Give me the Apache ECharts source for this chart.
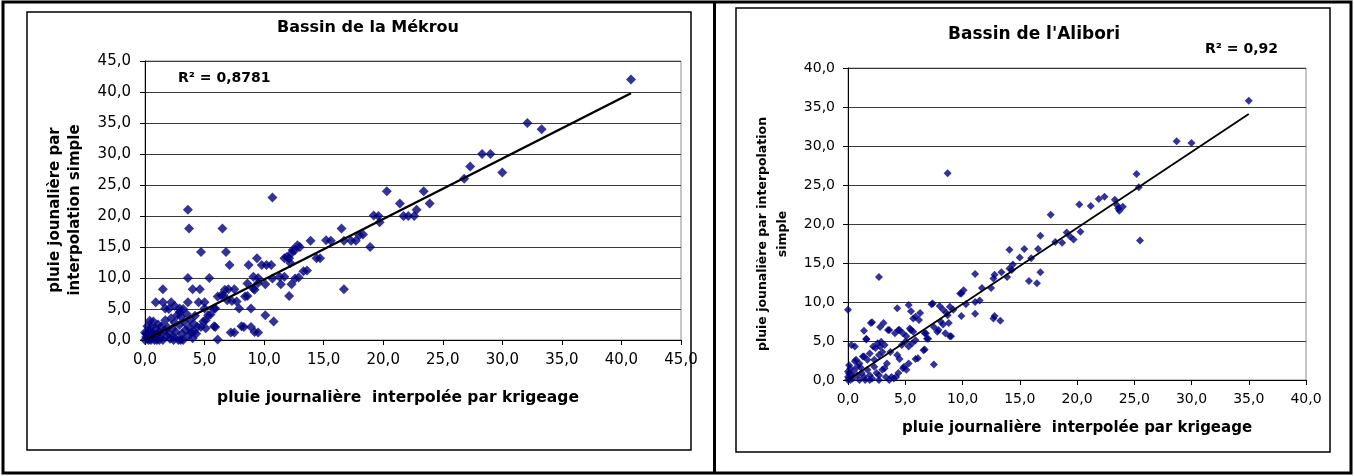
<!DOCTYPE html>
<html>
<head>
<meta charset="utf-8">
<script src="https://cdn.jsdelivr.net/npm/echarts@6/dist/echarts.min.js"></script>
<style>
html,body{margin:0;padding:0;background:#fff;}
#chart{width:1354px;height:476px;}
</style>
</head>
<body>
<div id="chart"></div>
<script>
// ---------- DATA ----------
const mekrouTitle = "Bassin de la Mékrou";
const aliboriTitle = "Bassin de l'Alibori";
const mekrouR2 = "R² = 0,8781";
const aliboriR2 = "R² = 0,92";
const xAxisTitle = "pluie journalière  interpolée par krigeage";
const mekrouYTitle = "pluie jounalière par\ninterpolation simple";
const aliboriYTitle = "pluie jounalière par interpolation\nsimple";

const mekrouTickLabels = ['0,0','5,0','10,0','15,0','20,0','25,0','30,0','35,0','40,0','45,0'];
const aliboriTickLabels = ['0,0','5,0','10,0','15,0','20,0','25,0','30,0','35,0','40,0'];

// [krigeage, interpolation simple]
const mekrouPoints = [
[40.8,42.0],[32.1,35.0],[33.3,34.0],[28.3,30.0],[29.0,30.0],[30.0,27.0],[27.3,28.0],[26.8,26.0],
[20.3,24.0],[23.4,24.0],[21.4,22.0],[23.9,22.0],[22.8,21.0],[21.7,20.0],[22.1,20.0],[22.6,20.0],
[19.6,20.0],[19.7,19.0],[10.7,23.0],[3.6,21.0],[3.7,18.0],[6.5,18.0],[16.5,18.0],[18.3,17.0],
[17.7,16.0],[16.7,16.0],[15.6,16.0],[13.9,16.0],[18.9,15.0],[13.0,15.0],[12.6,14.5],[12.3,14.0],
[12.1,13.2],[14.7,13.2],[13.6,11.2],[12.9,10.1],[12.3,9.0],[12.1,7.1],[11.4,9.0],[11.7,10.2],
[16.7,8.2],[4.7,14.2],[6.8,14.2],[7.1,12.1],[8.7,12.1],[9.4,13.2],[9.8,12.1],[10.6,12.1],
[9.1,10.2],[9.5,10.0],[10.1,9.0],[10.7,9.9],[8.6,9.1],[9.1,8.3],[8.6,7.1],[8.9,5.1],
[10.1,4.0],[10.8,3.0],[8.3,2.1],[8.9,2.1],[9.5,1.2],[7.2,1.2],[7.5,1.2],[6.1,0.1],
[5.9,2.1],[3.6,10.0],[5.4,10.0],[4.0,8.2],[4.6,8.2],[3.6,6.1],[1.5,8.2],[0.9,6.1],
[1.5,6.1],[2.2,6.1],[1.7,5.1],[2.9,5.1],[4.5,6.1],[5.0,6.1],[5.0,5.1],[5.9,5.1],
[6.4,7.2],[7.0,8.2],[7.5,8.2],[6.9,6.4],[7.7,6.2],[7.9,5.1],[6.6,7.2],[5.5,4.1],
[5.1,3.2],[4.7,2.1],[4.1,1.3],[6.7,8.1],[8.4,7.0],[9.2,8.1],[9.5,9.2],[6.1,7.0],
[7.3,6.3],[5.8,5.1],[5.3,4.0],[4.9,3.0],[5.8,2.2],[8.1,2.2],[5.1,1.9],[9.2,1.3],
[12.4,14.5],[11.9,13.4],[12.2,12.4],[11.3,10.2],[12.6,9.9],[10.2,12.1],[17.3,16.0],[18.0,16.9],
[19.2,20.1],[13.3,11.1],[14.4,13.2],[15.2,16.1],[12.8,15.3],[11.7,13.2],
[0.0,0.0],[0.1,0.5],[0.2,1.0],[0.3,0.0],[0.4,1.5],[0.5,2.0],[0.6,0.3],[0.7,3.0],
[0.8,0.8],[0.9,1.8],[1.0,0.0],[1.1,2.5],[1.2,1.2],[1.3,0.4],[1.4,2.2],[1.5,0.0],
[1.6,1.5],[1.7,3.2],[1.8,0.7],[1.9,2.0],[2.0,1.0],[2.1,0.2],[2.2,3.5],[2.3,1.8],
[2.4,0.5],[2.5,2.8],[2.6,1.3],[2.7,4.0],[2.8,0.0],[2.9,2.4],[3.0,3.8],[3.1,1.0],
[3.2,0.0],[3.3,2.9],[3.4,1.6],[3.5,4.2],[3.6,0.6],[3.7,2.0],[3.8,3.3],[3.9,1.2],
[4.0,0.3],[4.1,2.6],[4.2,3.9],[4.3,1.0],[4.4,2.1],[0.2,0.2],[0.5,0.0],[0.8,0.0],
[0.3,0.8],[0.6,1.2],[1.2,0.0],[0.1,1.0],[0.0,1.2],[2.0,5.0],[2.5,5.5],[2.9,4.5],
[3.2,5.0],[0.2,2.2],[0.4,3.1],[1.0,1.0],[2.4,0.0],[3.0,0.0]
];
const mekrouTrend = [[0.0,0.0],[40.8,39.8]];

const aliboriPoints = [
[35.0,35.8],[28.7,30.6],[30.0,30.4],[25.2,26.4],[25.4,24.7],[25.5,17.9],[8.7,26.5],
[23.3,23.1],[23.5,22.4],[23.7,21.7],[24.0,22.2],[23.6,22.0],[22.4,23.5],[21.9,23.2],[21.2,22.3],
[20.2,22.5],[17.7,21.2],[20.3,19.0],[19.7,18.0],[19.4,18.4],[19.1,18.9],[18.7,17.6],[18.1,17.7],
[16.8,18.5],[16.6,16.8],[15.4,16.8],[14.1,16.7],[16.0,15.6],[15.0,15.7],[14.4,14.8],[14.1,14.3],
[14.3,14.1],[13.9,13.2],[13.4,13.8],[12.8,13.5],[12.7,13.0],[11.1,13.6],[16.8,13.8],[15.8,12.7],
[16.5,12.4],[12.5,11.8],[11.7,11.8],[10.1,11.5],[9.9,11.1],[10.3,9.7],[11.1,10.0],[11.5,10.2],
[9.9,8.2],[11.1,8.5],[12.8,8.2],[12.7,7.9],[13.3,7.6],[2.7,13.2],
[0.0,9.0],[9.8,11.1],[4.3,9.2],[5.3,9.6],[5.5,8.8],[5.9,8.1],[6.3,8.6],[7.3,9.7],
[8.0,9.5],[8.3,9.0],[8.6,8.6],[8.9,9.4],[9.2,9.0],[2.0,7.3],[3.1,7.3],[2.8,6.8],
[1.4,6.3],[3.5,6.4],[4.1,6.0],[4.5,6.4],[4.8,6.0],[5.1,5.6],[5.4,6.6],[5.7,6.2],
[6.7,6.0],[7.0,5.3],[7.5,6.8],[7.9,6.4],[8.5,6.0],[8.8,7.3],[8.9,5.6],[1.6,5.2],
[0.3,4.5],[0.6,4.3],[6.6,3.8],[7.5,2.0],[5.9,2.7],[5.3,2.1],[4.8,1.5],[4.5,2.7],
[3.8,0.4],[4.0,0.2],[0.7,2.6],[1.3,3.0],[1.9,3.4],[2.4,4.1],[2.8,4.3],[3.2,4.5],
[3.7,3.6],[4.3,3.2],[4.7,4.5],[5.0,4.9],[5.3,4.3],[5.6,4.7],[6.2,7.7],[5.7,7.9],
[2.1,7.4],[4.4,0.9],[3.4,2.1],[3.0,1.3],[3.3,0.4],[2.7,0.0],[2.3,1.7],[1.7,2.6],
[1.4,3.0],[0.8,1.7],[1.2,0.9],[1.9,0.6],[0.6,2.4],[0.2,1.5],[0.0,0.4],[0.4,0.2],
[1.0,0.0],[1.5,0.0],[2.1,0.2],[2.5,0.9],[0.2,0.0],[0.0,1.1],[0.3,0.6],[0.8,0.6],
[1.4,0.4],[1.7,1.3],[2.3,2.6],[2.7,3.2],[3.0,3.6],[1.9,0.0],[2.7,0.6],[3.6,0.0],
[4.2,0.4],[3.2,1.5],[2.9,4.9],[2.6,4.7],[2.2,4.3],[0.1,0.8],[0.5,1.2],[1.1,1.6],
[0.0,0.0],[0.1,1.9],[1.0,2.1],[6.1,2.8],[6.7,3.9],[6.9,5.3],[6.8,6.0],[9.0,5.6],
[7.8,6.2],[5.5,6.4],[4.4,6.4],[3.6,6.4],[5.9,5.1],[7.4,9.8],[8.7,8.3],[8.1,7.5],
[8.3,7.1],[4.9,1.7],[5.1,1.3],[1.6,5.3]
];
const aliboriTrend = [[0.1,0.1],[35.0,34.1]];

// ---------- CHART ----------
const FONT = '"DejaVu Sans", "Liberation Sans", Arial, sans-serif';
const chart = echarts.init(document.getElementById('chart'), null, {renderer: 'canvas'});

function xAxisCfg(gi, max, labels, fs, margin) {
  return {
    gridIndex: gi, type: 'value', min: 0, max: max, interval: 5,
    axisLine: {show: true, onZero: false, lineStyle: {color: '#000', width: 1}},
    axisTick: {show: true, length: 5, lineStyle: {color: '#000'}},
    axisLabel: {color: '#000', fontSize: fs, fontFamily: FONT, margin: margin,
      formatter: v => labels[Math.round(v / 5)]},
    splitLine: {show: false}
  };
}
function yAxisCfg(gi, max, labels, fs, margin) {
  return {
    gridIndex: gi, type: 'value', min: 0, max: max, interval: 5,
    axisLine: {show: true, onZero: false, lineStyle: {color: '#000', width: 1}},
    axisTick: {show: true, length: 5, lineStyle: {color: '#000'}},
    axisLabel: {color: '#000', fontSize: fs, fontFamily: FONT, margin: margin,
      formatter: v => labels[Math.round(v / 5)]},
    splitLine: {show: true, lineStyle: {color: '#3a3a3a', width: 1}}
  };
}

const option = {
  backgroundColor: '#fff',
  animation: false,
  grid: [
    {left: 145, top: 61, right: 1354 - 681, bottom: 476 - 340, show: true, borderColor: '#8c8c8c', borderWidth: 1},
    {left: 848, top: 68, right: 1354 - 1306, bottom: 476 - 380, show: true, borderColor: '#8c8c8c', borderWidth: 1}
  ],
  xAxis: [
    xAxisCfg(0, 45, mekrouTickLabels, 15, 13),
    xAxisCfg(1, 40, aliboriTickLabels, 14, 12)
  ],
  yAxis: [
    yAxisCfg(0, 45, mekrouTickLabels, 15, 14),
    yAxisCfg(1, 40, aliboriTickLabels, 14, 13)
  ],
  series: [
    {type: 'scatter', xAxisIndex: 0, yAxisIndex: 0, data: mekrouPoints, symbol: 'diamond', symbolSize: 10,
      itemStyle: {color: '#000080'}, z: 2},
    {type: 'line', xAxisIndex: 0, yAxisIndex: 0, data: mekrouTrend, showSymbol: false, symbol: 'none',
      lineStyle: {color: '#000', width: 2.5}, z: 3},
    {type: 'scatter', xAxisIndex: 1, yAxisIndex: 1, data: aliboriPoints, symbol: 'diamond', symbolSize: 8,
      itemStyle: {color: '#000080'}, z: 2},
    {type: 'line', xAxisIndex: 1, yAxisIndex: 1, data: aliboriTrend, showSymbol: false, symbol: 'none',
      lineStyle: {color: '#000', width: 1.8}, z: 3}
  ],
  graphic: [
    // page/table borders
    {type: 'rect', shape: {x: 3, y: 2, width: 1348, height: 471}, style: {fill: 'none', stroke: '#000', lineWidth: 3}, silent: true},
    {type: 'line', shape: {x1: 714.5, y1: 2, x2: 714.5, y2: 473}, style: {stroke: '#000', lineWidth: 3}, silent: true},
    // chart frames
    {type: 'rect', shape: {x: 27, y: 12, width: 664, height: 438}, style: {fill: 'none', stroke: '#000', lineWidth: 1.5}, silent: true},
    {type: 'rect', shape: {x: 736, y: 8, width: 594, height: 444}, style: {fill: 'none', stroke: '#000', lineWidth: 1.5}, silent: true},
    // titles
    {type: 'text', x: 368, y: 28, style: {text: mekrouTitle, fontFamily: FONT, fontWeight: 'bold', fontSize: 16, fill: '#000', textAlign: 'center', textVerticalAlign: 'middle'}},
    {type: 'text', x: 1034, y: 35, style: {text: aliboriTitle, fontFamily: FONT, fontWeight: 'bold', fontSize: 17, fill: '#000', textAlign: 'center', textVerticalAlign: 'middle'}},
    // R2 labels
    {type: 'text', x: 178, y: 78, style: {text: mekrouR2, fontFamily: FONT, fontWeight: 'bold', fontSize: 14, fill: '#000', textAlign: 'left', textVerticalAlign: 'middle'}},
    {type: 'text', x: 1205, y: 49, style: {text: aliboriR2, fontFamily: FONT, fontWeight: 'bold', fontSize: 14, fill: '#000', textAlign: 'left', textVerticalAlign: 'middle'}},
    // x-axis titles
    {type: 'text', x: 398, y: 398, style: {text: xAxisTitle, fontFamily: FONT, fontWeight: 'bold', fontSize: 15.5, fill: '#000', textAlign: 'center', textVerticalAlign: 'middle'}},
    {type: 'text', x: 1077, y: 428, style: {text: xAxisTitle, fontFamily: FONT, fontWeight: 'bold', fontSize: 15, fill: '#000', textAlign: 'center', textVerticalAlign: 'middle'}},
    // y-axis titles
    {type: 'text', x: 65.5, y: 210, rotation: Math.PI / 2, style: {text: mekrouYTitle, fontFamily: FONT, fontWeight: 'bold', fontSize: 15, lineHeight: 20, fill: '#000', textAlign: 'center', textVerticalAlign: 'middle'}},
    {type: 'text', x: 773, y: 234, rotation: Math.PI / 2, style: {text: aliboriYTitle, fontFamily: FONT, fontWeight: 'bold', fontSize: 12.5, lineHeight: 20, fill: '#000', textAlign: 'center', textVerticalAlign: 'middle'}}
  ]
};
chart.setOption(option);
</script>
</body>
</html>
